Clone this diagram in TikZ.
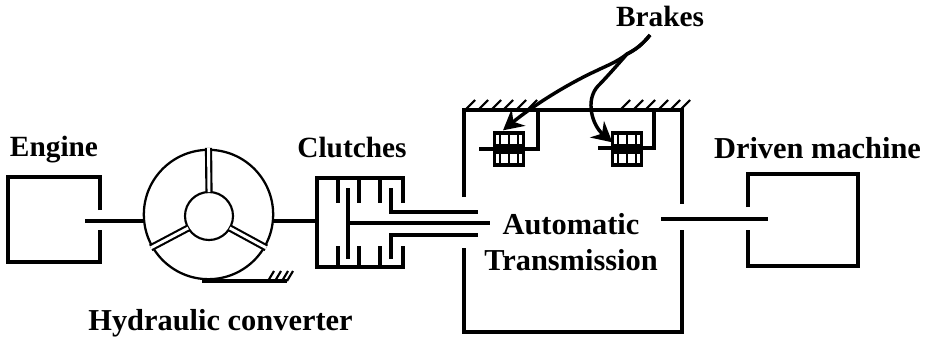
\documentclass[tikz,border=0pt]{standalone}
\usepackage{fontspec}
\setmainfont{Liberation Serif}
\usetikzlibrary{arrows.meta}
\tikzset{
	label/.style={font=\fontsize{22}{27}\selectfont\bfseries,anchor=base,inner sep=0pt},
	widelabel/.style={label,font=\fontsize{22.8}{27}\selectfont\bfseries},
	part/.style={line width=2.3pt,line join=miter},
	shaft/.style={line width=2.6pt},
	hatch/.style={line width=1.6pt},
	vane/.style={double=white,double distance=2.2pt,line width=1.6pt},
	brake/.style={draw,part,fill=white,minimum width=22pt,minimum height=24pt,inner sep=0pt,outer sep=0pt},
	pointer/.style={line width=2.6pt,-{Stealth[length=15pt,width=16pt]}}
}
\begin{document}
\begin{tikzpicture}[x=0.75pt,y=-0.75pt]
	\useasboundingbox (0,0) rectangle (930,340);

	\node[label] (engine) at (54,156) {Engine};
	\node[label] (clutches) at (352,157) {Clutches};
	\node[widelabel] (driven) at (817.5,158) {Driven machine};
	\node[label] (brakes) at (660,26) {Brakes};
	\node[widelabel] (converter) at (220.5,330) {Hydraulic converter};
	\node[widelabel,align=center,anchor=center] (auto) at (571,242.5) {Automatic\\Transmission};

	% engine
	\draw[part] (100,210) -- (100,177) -- (8,177) -- (8,262) -- (100,262) -- (100,230);
	\coordinate (engineout) at (85,221);

	% converter
	\node[draw,circle,part,line width=1.7pt,minimum size=97pt,inner sep=0pt,outer sep=0pt] (wheel) at (208.5,214.5) {};
	\node[draw,circle,line width=1.6pt,minimum size=36pt,inner sep=0pt,outer sep=0pt] (hub) at (209,216) {};
	\foreach \a in {90,210,330}
		\draw[vane] (hub.\a) -- ([shift={(\a:1.5pt)}]wheel.\a);
	\draw[shaft] (engineout) -- (engineout -| wheel.west);
	\coordinate (wheelout) at (wheel.east |- engineout);

	% ground of the converter
	\coordinate (ground) at (202,281);
	\draw[part] (ground) -- (287,281);
	\foreach \x in {268,275,282,287}
		\draw[hatch] (\x,281) -- (\x+6,271);

	% clutches
	\coordinate (clutchin) at (317,221);
	\draw[shaft] (wheelout) -- (clutchin);
	\draw[part] (403,203) -- (403,178) -- (317,178) -- (317,267) -- (403,267) -- (403,246);
	\foreach \x in {338,359,380} {
		\draw[part] (\x,178) -- (\x,203);
		\draw[part] (\x,267) -- (\x,246);
	}
	\draw[part] (348,188) -- (348,259);
	\draw[shaft] (348,223) -- (490,223);
	\draw[part] (391,188) -- (391,212) -- (478,212);
	\draw[part] (391,259) -- (391,235) -- (478,235);

	% transmission
	\draw[part] (464,197) -- (464,110) -- (682,110) -- (682,204);
	\draw[part] (464,248) -- (464,332) -- (682,332) -- (682,230);
	\foreach \x in {465,478,491,503,516,527,620,633,645,658,670,680}
		\draw[hatch] (\x,110) -- (\x+10,100);

	% brakes in the transmission
	\node[brake] (brakeL) at (509,149) {};
	\node[brake] (brakeR) at (627,149) {};
	\foreach \b in {brakeL,brakeR} {
		\fill ([yshift=-4pt]\b.west) rectangle ([yshift=4pt]\b.east);
		\foreach \d in {-7,0,7} {
			\draw[hatch] ([xshift=\d pt]\b.north) -- ([xshift=\d pt]\b.south);
		}
	}
	\draw[shaft] (479,149) -- (538,149) -- (538,110);
	\draw[shaft] (598,148) -- (654,148) -- (654,110);

	% driven machine
	\draw[part] (748,207) -- (748,174) -- (858,174) -- (858,266) -- (748,266) -- (748,230);
	\coordinate (transout) at (661,219);
	\coordinate (drivenin) at (768,219);
	\draw[shaft] (transout) -- (drivenin);

	% pointers
	\coordinate (fork) at (650,35);
	\coordinate (split) at (627,54);
	\draw[pointer] (fork) .. controls (642,45) and (635,50) .. (split)
		.. controls (617,62) and (606,66) .. (598,70)
		.. controls (565,85) and (530,108) .. ([xshift=-4.5pt,yshift=2pt]brakeL.north);
	\draw[pointer] (fork) .. controls (642,45) and (635,50) .. (split)
		.. controls (620,62) and (606,78) .. (598,86)
		.. controls (585,100) and (592,125) .. ([yshift=-7pt]brakeR.north west);
\end{tikzpicture}
\end{document}
